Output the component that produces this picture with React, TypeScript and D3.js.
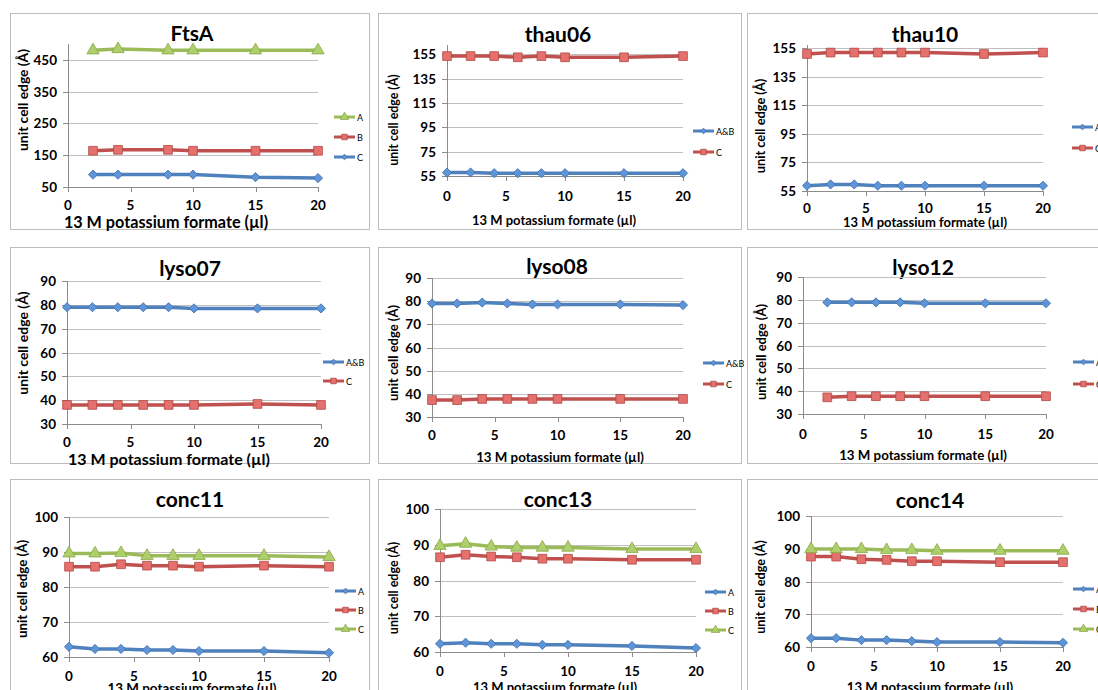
import React from "react";
import * as d3 from "d3";

// ---------- data ----------
const X_TICKS = [0, 5, 10, 15, 20];
const X_FTSA = [2, 4, 8, 10, 15, 20];
const X_ALL = [0, 2, 4, 6, 8, 10, 15, 20];
const X_LYSO12 = [2, 4, 6, 8, 10, 15, 20];

const Y_TICKS_FTSA = [50, 150, 250, 350, 450];
const Y_TICKS_THAU = [55, 75, 95, 115, 135, 155];
const Y_TICKS_LYSO = [30, 40, 50, 60, 70, 80, 90];
const Y_TICKS_CONC = [60, 70, 80, 90, 100];

const TITLES = ["FtsA", "thau06", "thau10", "lyso07", "lyso08", "lyso12", "conc11", "conc13", "conc14"];
const X_TITLE = "13 M potassium formate (µl)";
const Y_TITLE = "unit cell edge (Å)";

const ftsaA = [480, 484, 480, 480, 480, 480];
const ftsaB = [164, 167, 167, 164, 164, 164];
const ftsaC = [89, 89, 89, 89, 81, 78];

const thau06AB = [57.8, 57.9, 57.3, 57.3, 57.3, 57.3, 57.3, 57.3];
const thau06C = [153.5, 153.5, 153.5, 152.5, 153.5, 152.5, 152.5, 153.5];

const thau10AB = [58.7, 59.6, 59.6, 58.7, 58.7, 58.7, 58.7, 58.7];
const thau10C = [151, 152, 152, 152, 152, 152, 151, 152];

const lyso07AB = [79.0, 79.0, 79.0, 79.0, 79.0, 78.5, 78.5, 78.5];
const lyso07C = [38.0, 38.0, 38.0, 38.0, 38.0, 38.0, 38.4, 38.0];

const lyso08AB = [79.0, 79.0, 79.4, 79.0, 78.6, 78.6, 78.6, 78.3];
const lyso08C = [37.3, 37.3, 37.8, 37.8, 37.8, 37.8, 37.8, 37.8];

const lyso12AB = [78.9, 78.9, 78.9, 78.9, 78.5, 78.5, 78.5];
const lyso12C = [37.3, 37.8, 37.8, 37.8, 37.8, 37.8, 37.8];

const conc11A = [62.9, 62.3, 62.3, 62.0, 62.0, 61.7, 61.7, 61.2];
const conc11B = [85.8, 85.8, 86.5, 86.1, 86.1, 85.8, 86.1, 85.8];
const conc11C = [89.6, 89.6, 89.7, 88.9, 88.9, 88.9, 88.9, 88.6];

const conc13A = [62.3, 62.6, 62.3, 62.3, 62.0, 62.0, 61.7, 61.1];
const conc13B = [86.5, 87.2, 86.7, 86.5, 86.1, 86.1, 85.8, 85.8];
const conc13C = [89.7, 90.3, 89.5, 89.2, 89.2, 89.2, 88.8, 88.8];

const conc14A = [62.7, 62.7, 62.1, 62.1, 61.8, 61.5, 61.5, 61.3];
const conc14B = [87.6, 87.6, 86.8, 86.6, 86.2, 86.2, 85.9, 85.9];
const conc14C = [89.9, 89.9, 89.9, 89.6, 89.6, 89.4, 89.4, 89.4];

// ---------- styles ----------
type Kind = "blue" | "red" | "green";
const STYLE: Record<Kind, { line: string; fill: string; stroke: string }> = {
  blue: { line: "#4F81BD", fill: "#5E95D8", stroke: "#3F70AD" },
  red: { line: "#C0504D", fill: "#E5716E", stroke: "#B24744" },
  green: { line: "#9BBB59", fill: "#AECF6B", stroke: "#88A846" },
};
const SHAPE: Record<Kind, any> = {
  blue: d3.symbolSquare,
  red: d3.symbolSquare,
  green: d3.symbolTriangle,
};

type Series = { label: string; xs: number[]; ys: number[]; kind: Kind };

const SERIES: Series[][] = [
  [
    { label: "A", xs: X_FTSA, ys: ftsaA, kind: "green" },
    { label: "B", xs: X_FTSA, ys: ftsaB, kind: "red" },
    { label: "C", xs: X_FTSA, ys: ftsaC, kind: "blue" },
  ],
  [
    { label: "A&B", xs: X_ALL, ys: thau06AB, kind: "blue" },
    { label: "C", xs: X_ALL, ys: thau06C, kind: "red" },
  ],
  [
    { label: "A&B", xs: X_ALL, ys: thau10AB, kind: "blue" },
    { label: "C", xs: X_ALL, ys: thau10C, kind: "red" },
  ],
  [
    { label: "A&B", xs: X_ALL, ys: lyso07AB, kind: "blue" },
    { label: "C", xs: X_ALL, ys: lyso07C, kind: "red" },
  ],
  [
    { label: "A&B", xs: X_ALL, ys: lyso08AB, kind: "blue" },
    { label: "C", xs: X_ALL, ys: lyso08C, kind: "red" },
  ],
  [
    { label: "A&B", xs: X_LYSO12, ys: lyso12AB, kind: "blue" },
    { label: "C", xs: X_LYSO12, ys: lyso12C, kind: "red" },
  ],
  [
    { label: "A", xs: X_ALL, ys: conc11A, kind: "blue" },
    { label: "B", xs: X_ALL, ys: conc11B, kind: "red" },
    { label: "C", xs: X_ALL, ys: conc11C, kind: "green" },
  ],
  [
    { label: "A", xs: X_ALL, ys: conc13A, kind: "blue" },
    { label: "B", xs: X_ALL, ys: conc13B, kind: "red" },
    { label: "C", xs: X_ALL, ys: conc13C, kind: "green" },
  ],
  [
    { label: "A", xs: X_ALL, ys: conc14A, kind: "blue" },
    { label: "B", xs: X_ALL, ys: conc14B, kind: "red" },
    { label: "C", xs: X_ALL, ys: conc14C, kind: "green" },
  ],
];

const Y_TICKS = [
  Y_TICKS_FTSA, Y_TICKS_THAU, Y_TICKS_THAU,
  Y_TICKS_LYSO, Y_TICKS_LYSO, Y_TICKS_LYSO,
  Y_TICKS_CONC, Y_TICKS_CONC, Y_TICKS_CONC,
];
const Y_DOMAINS: [number, number][] = [
  [50, 500], [55, 162.6], [55, 157.3],
  [30, 90], [30, 90], [30, 90],
  [60, 100], [60, 100], [60, 100],
];

// ---------- layout ----------
type Layout = {
  box: [number, number, number, number];
  plot: [number, number, number, number]; // left, right, top, bottom
  titleX: number;
  titleY: number;
  tickOff: number;
  xTitle: [number, number, number]; // x, y, font size
  yTitle: [number, number, number];
  legend: [number, number, number]; // x, y0, step
};
const LAYOUT: Layout[] = [
  { box: [10, 13, 359, 216], plot: [68, 318, 44, 187], titleX: 192, titleY: 32, tickOff: 18, xTitle: [166, 221, 16.2], yTitle: [22, 100, 13.8], legend: [334, 117, 20] },
  { box: [378, 13, 363, 216], plot: [447, 683, 45, 176], titleX: 558, titleY: 33, tickOff: 20, xTitle: [554, 220, 13], yTitle: [393, 120, 12.4], legend: [693, 131, 21] },
  { box: [747, 13, 360, 216], plot: [807, 1043, 45, 191], titleX: 925, titleY: 33, tickOff: 17, xTitle: [925, 222, 13], yTitle: [760, 126, 12.8], legend: [1072, 127, 21] },
  { box: [10, 247, 359, 216], plot: [67, 321, 281, 424], titleX: 190, titleY: 267, tickOff: 18, xTitle: [169, 458, 16], yTitle: [22, 343, 14], legend: [323, 362, 19] },
  { box: [378, 247, 363, 216], plot: [432, 683, 278, 417], titleX: 557, titleY: 265, tickOff: 18, xTitle: [560, 457, 13.3], yTitle: [393, 353, 13], legend: [703, 363, 21] },
  { box: [747, 247, 360, 216], plot: [803, 1046, 277, 414], titleX: 923, titleY: 266, tickOff: 20, xTitle: [923, 455, 13.3], yTitle: [761, 352, 13], legend: [1073, 362, 22] },
  { box: [10, 479, 359, 230], plot: [69, 329, 517, 657], titleX: 190, titleY: 498, tickOff: 19, xTitle: [192, 688, 13.4], yTitle: [22, 589, 13.3], legend: [335, 591, 19] },
  { box: [378, 479, 363, 230], plot: [440, 696, 509, 652], titleX: 558, titleY: 498, tickOff: 19, xTitle: [555, 687, 13], yTitle: [393, 588, 12.5], legend: [705, 592, 19] },
  { box: [747, 479, 360, 230], plot: [811, 1063, 516, 647], titleX: 930, titleY: 499, tickOff: 19, xTitle: [930, 687, 13.2], yTitle: [760, 587, 12.7], legend: [1073, 589, 20] },
];

const FONT = "Lato, 'Open Sans', 'DejaVu Sans', sans-serif";

function Marker({ kind, cx, cy, small }: { kind: Kind; cx: number; cy: number; small?: boolean }) {
  const st = STYLE[kind];
  let size: number;
  let rot = 0;
  if (kind === "blue") {
    size = small ? 16 : 42;
    rot = 45;
  } else if (kind === "red") {
    size = small ? 30 : 76;
  } else {
    size = small ? 30 : 66;
  }
  const d = d3.symbol().type(SHAPE[kind]).size(size)() || "";
  return (
    <path
      d={d}
      transform={`translate(${cx},${cy}) rotate(${rot})`}
      fill={st.fill}
      stroke={st.stroke}
      strokeWidth={0.8}
    />
  );
}

function Panel({ idx }: { idx: number }) {
  const L = LAYOUT[idx];
  const [left, right, top, bottom] = L.plot;
  const x = d3.scaleLinear().domain([0, 20]).range([left, right]);
  const y = d3.scaleLinear().domain(Y_DOMAINS[idx]).range([bottom, top]);
  const ticks = Y_TICKS[idx];
  const series = SERIES[idx];
  return (
    <g>
      <rect x={L.box[0] + 0.5} y={L.box[1] + 0.5} width={L.box[2]} height={L.box[3]} fill="#fff" stroke="#BDBDBD" strokeWidth={1} />
      <text x={L.titleX} y={L.titleY} textAnchor="middle" dominantBaseline="central" fontFamily={FONT} fontWeight="bold" fontSize={21} fill="#000">
        {TITLES[idx]}
      </text>
      {/* gridlines */}
      {ticks.filter((t) => t !== Y_DOMAINS[idx][0]).map((t) => (
        <line key={"g" + t} x1={left} x2={right} y1={Math.round(y(t)) + 0.5} y2={Math.round(y(t)) + 0.5} stroke="#BFBFBF" strokeWidth={1} />
      ))}
      {/* axes */}
      <line x1={left + 0.5} x2={left + 0.5} y1={top} y2={bottom} stroke="#8C8C8C" strokeWidth={1} />
      <line x1={left} x2={right} y1={Math.round(bottom) + 0.5} y2={Math.round(bottom) + 0.5} stroke="#8C8C8C" strokeWidth={1} />
      {ticks.map((t) => (
        <g key={"y" + t}>
          <line x1={left - 5} x2={left} y1={Math.round(y(t)) + 0.5} y2={Math.round(y(t)) + 0.5} stroke="#8C8C8C" />
          <text x={left - 11} y={y(t)} textAnchor="end" dominantBaseline="central" fontFamily={FONT} fontWeight="bold" fontSize={13.5} fill="#000">
            {t}
          </text>
        </g>
      ))}
      {X_TICKS.map((t) => (
        <g key={"x" + t}>
          <line x1={Math.round(x(t)) + 0.5} x2={Math.round(x(t)) + 0.5} y1={bottom} y2={bottom + 5} stroke="#8C8C8C" />
          <text x={x(t)} y={bottom + L.tickOff} textAnchor="middle" dominantBaseline="central" fontFamily={FONT} fontWeight="bold" fontSize={13.5} fill="#000">
            {t}
          </text>
        </g>
      ))}
      <text x={L.xTitle[0]} y={L.xTitle[1]} textAnchor="middle" dominantBaseline="central" fontFamily={FONT} fontWeight="bold" fontSize={L.xTitle[2]} fill="#000">
        {X_TITLE}
      </text>
      <text
        transform={`translate(${L.yTitle[0]},${L.yTitle[1]}) rotate(-90)`}
        textAnchor="middle"
        dominantBaseline="central"
        fontFamily={FONT}
        fontWeight="bold"
        fontSize={L.yTitle[2]}
        fill="#000"
      >
        {Y_TITLE}
      </text>
      {/* series */}
      {series.map((s) => {
        const pts = s.xs.map((xv, i) => [x(xv), y(s.ys[i])] as [number, number]);
        const path = d3.line()(pts) || "";
        return (
          <g key={s.label}>
            <path d={path} fill="none" stroke={STYLE[s.kind].line} strokeWidth={3.5} strokeLinejoin="round" />
            {pts.map((p, i) => (
              <Marker key={i} kind={s.kind} cx={p[0]} cy={p[1]} />
            ))}
          </g>
        );
      })}
      {/* legend */}
      {series.map((s, i) => {
        const ly = L.legend[1] + i * L.legend[2];
        const lx = L.legend[0];
        return (
          <g key={"l" + s.label}>
            <line x1={lx} x2={lx + 21} y1={ly} y2={ly} stroke={STYLE[s.kind].line} strokeWidth={3} />
            <Marker kind={s.kind} cx={lx + 10.5} cy={ly} small />
            <text x={lx + 23} y={ly + 0.5} dominantBaseline="central" fontFamily={FONT} fontSize={9} fill="#000">
              {s.label}
            </text>
          </g>
        );
      })}
    </g>
  );
}

export default function App() {
  return (
    <svg
      width={1098}
      height={690}
      viewBox="0 0 1098 690"
      style={{ position: "absolute", left: 0, top: 0, background: "#fff" }}
    >
      <rect x={0} y={0} width={1098} height={690} fill="#fff" />
      {TITLES.map((_, i) => (
        <Panel key={i} idx={i} />
      ))}
    </svg>
  );
}
